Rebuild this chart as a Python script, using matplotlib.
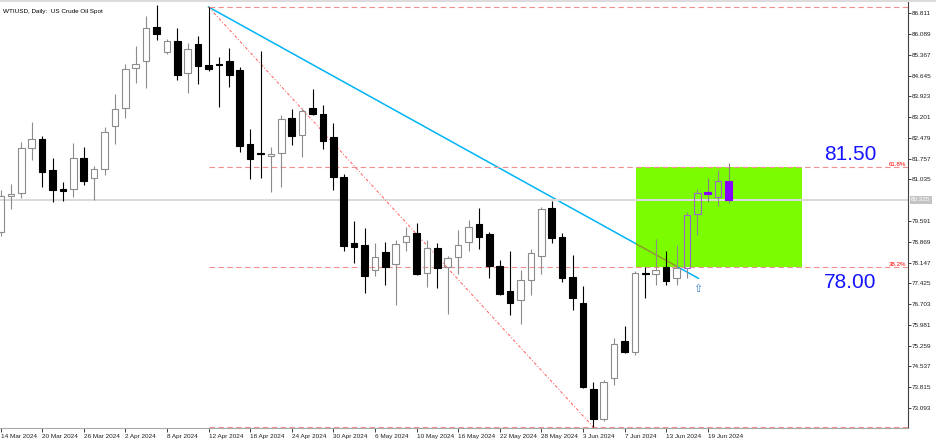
import matplotlib
matplotlib.use('Agg')
import matplotlib.pyplot as plt
import matplotlib.patches as mpatches

plt.rcParams['font.family'] = ['Liberation Sans', 'DejaVu Sans']

# Daily OHLC, one bar per trading day from 14 Mar 2024
opens = [79.21, 80.46, 80.56, 82.13, 82.44, 81.36, 80.70, 80.70, 81.78, 81.09,
         81.40, 82.89, 83.52, 84.91, 85.15, 86.33, 85.47, 85.85, 84.74, 85.74,
         85.01, 85.05, 85.15, 84.84, 82.27, 81.95, 81.85, 81.95, 83.17, 82.58,
         83.52, 83.31, 82.51, 81.12, 78.82, 78.76, 77.89, 78.51, 78.10, 78.86,
         79.17, 77.78, 78.65, 77.99, 78.34, 78.86, 79.49, 79.14, 78.03, 77.16,
         76.85, 77.54, 78.37, 80.04, 79.03, 77.64, 76.74, 73.75, 72.71, 74.13,
         75.42, 75.04, 77.78, 77.75, 77.99, 77.61, 77.96, 79.83, 80.60, 80.43,
         80.98]
highs = [80.67, 80.88, 82.34, 83.03, 82.55, 81.78, 80.95, 82.30, 82.16, 81.50,
         82.86, 84.01, 85.05, 85.67, 86.72, 87.10, 85.92, 86.30, 85.78, 86.02,
         87.03, 85.29, 85.60, 84.94, 82.79, 85.50, 82.16, 83.28, 83.48, 83.52,
         84.18, 83.62, 83.00, 81.22, 79.59, 79.35, 78.82, 78.86, 78.93, 79.38,
         79.52, 78.93, 78.82, 78.37, 79.28, 79.62, 80.04, 79.21, 78.24, 78.55,
         77.89, 78.62, 80.08, 80.29, 79.17, 78.41, 77.33, 73.99, 74.06, 75.52,
         75.94, 77.85, 77.99, 78.97, 78.55, 78.76, 79.90, 80.70, 81.09, 81.36,
         81.61]
lows = [79.07, 80.01, 80.39, 81.71, 80.77, 80.25, 80.29, 80.43, 80.84, 80.32,
        81.19, 82.27, 83.17, 84.39, 84.21, 85.88, 85.40, 84.49, 84.04, 84.35,
        84.81, 83.55, 84.25, 81.99, 81.05, 81.09, 80.60, 80.77, 82.23, 81.82,
        83.28, 82.09, 80.67, 78.55, 78.13, 77.09, 77.68, 77.37, 76.67, 78.55,
        77.71, 77.30, 77.26, 76.36, 77.75, 78.55, 78.62, 77.61, 77.02, 76.32,
        76.01, 77.02, 77.75, 78.82, 77.47, 76.50, 73.79, 72.43, 72.64, 73.89,
        75.00, 74.93, 76.91, 77.37, 77.37, 77.37, 77.61, 79.10, 80.25, 80.11,
        80.22]
closes = [80.46, 80.53, 82.13, 82.44, 81.30, 80.67, 80.63, 81.78, 80.98, 81.40,
          82.69, 83.48, 84.87, 85.05, 86.30, 86.09, 85.85, 84.67, 85.57, 84.98,
          84.87, 85.01, 84.67, 82.20, 81.75, 81.92, 81.92, 83.14, 82.55, 83.41,
          83.31, 82.37, 81.12, 78.72, 78.69, 77.68, 78.34, 77.99, 78.79, 79.07,
          77.75, 78.65, 77.96, 78.30, 78.76, 79.38, 79.04, 78.03, 77.05, 76.74,
          77.54, 78.48, 80.01, 79.00, 77.61, 76.91, 73.82, 72.71, 73.99, 75.32,
          75.04, 77.78, 77.75, 77.89, 77.51, 77.96, 79.80, 80.57, 80.53, 80.98,
          80.32]

date_ticks = [0, 4, 8, 12, 16, 20, 24, 28, 32, 36, 40, 44, 48, 52, 56, 60, 64, 68]
date_labels = ['14 Mar 2024', '20 Mar 2024', '26 Mar 2024', '2 Apr 2024', '8 Apr 2024',
               '12 Apr 2024', '18 Apr 2024', '24 Apr 2024', '30 Apr 2024', '6 May 2024',
               '10 May 2024', '16 May 2024', '22 May 2024', '28 May 2024', '3 Jun 2024',
               '7 Jun 2024', '13 Jun 2024', '19 Jun 2024']
price_ticks = [86.811, 86.089, 85.367, 84.645, 83.923, 83.201, 82.479, 81.757, 81.035,
               79.591, 78.869, 78.147, 77.425, 76.703, 75.981, 75.259, 74.537, 73.815, 73.093]
last_price = 80.325

# drawings on the chart
fib_hi_bar, fib_lo_bar = 20, 57
fib_ratios = [0.0, 0.382, 0.618, 1.0]
trend_end = (67.1, 77.60)
zone_bars = (61.1, 77.1)
targets = ['81.50', '78.00']
highlight_from = 66

fig = plt.figure(figsize=(9.36, 4.4), dpi=100)
ax = fig.add_axes([0, 12 / 440, 908 / 936, 426 / 440])
ax.set_xlim(-0.05, 87.26)
ax.set_ylim(72.397, 87.203)

# candles
for i in range(len(opens)):
    o, c = opens[i], closes[i]
    top, bot = max(o, c), min(o, c)
    hl = i >= highlight_from
    if c >= o:
        face = 'none'
        edge = '#9966cc' if hl else '#8c8c8c'
        wick = '#8c8c8c'
    else:
        face = edge = '#8800ff' if hl else 'black'
        wick = '#808080' if hl else 'black'
    ax.vlines(i, top, highs[i], color=wick, lw=0.8, zorder=3)
    ax.vlines(i, lows[i], bot, color=wick, lw=0.8, zorder=3)
    ax.bar(i, max(top - bot, 0.01), bottom=bot, width=0.62, facecolor=face,
           edgecolor=edge, lw=0.8, zorder=4)

# fibonacci
fib_hi = highs[fib_hi_bar]
fib_lo = lows[fib_lo_bar]
levels = [fib_lo + r * (fib_hi - fib_lo) for r in fib_ratios]
x_right = ax.get_xlim()[1]
for r, lev in zip(fib_ratios, levels):
    ax.hlines(lev, fib_hi_bar, x_right, color='#f29090', lw=0.8, ls=(0, (5, 3)), zorder=2.5)
    if r in (0.382, 0.618):
        ax.annotate('%.1f%%' % (r * 100), xy=(906 / 908, lev), xycoords=('axes fraction', 'data'),
                    ha='right', va='bottom', fontsize=4.4, color='red')
ax.plot([fib_hi_bar, fib_lo_bar], [fib_hi, fib_lo], color='#ff5a5a', lw=0.7,
        ls=(0, (3, 2, 1, 2)), zorder=2.5)

# target zone
zone = mpatches.Rectangle((zone_bars[0], levels[1]), zone_bars[1] - zone_bars[0],
                          levels[2] - levels[1], facecolor='#7cfc00', edgecolor='none', zorder=2)
ax.add_patch(zone)

# trend line (olive where it crosses the zone)
ax.plot([fib_hi_bar, trend_end[0]], [fib_hi, trend_end[1]], color='#00b4f5', lw=1.1, zorder=1.5)
inner, = ax.plot([fib_hi_bar, trend_end[0]], [fib_hi, trend_end[1]], color='#8f9a30', lw=1.1, zorder=2.1)
inner.set_clip_path(zone)

ax.axhline(last_price, color='#dadada', lw=1.5, zorder=2.4)

ax.text(81.7, 81.89, targets[0], fontsize=15, color='#1414ff', ha='center', va='center')
ax.text(81.7, 77.47, targets[1], fontsize=15, color='#1414ff', ha='center', va='center')
ax.text(67.0, 77.23, '\u21e7', fontsize=8, color='#3a7cc4', ha='center', va='center',
        family=['DejaVu Sans'])

# axes
for s in ['top', 'left']:
    ax.spines[s].set_visible(False)
ax.spines['bottom'].set_color('#a8a8a8')
ax.spines['right'].set_color('#404040')
ax.spines['right'].set_linewidth(0.8)
ax.yaxis.tick_right()
ax.set_yticks(price_ticks, labels=['%.3f' % p for p in price_ticks])
ax.tick_params(axis='y', length=2, width=0.6, pad=1, labelsize=4.6, colors='#202020')
ax.set_xticks(date_ticks, labels=date_labels)
ax.tick_params(axis='x', length=3, width=0.6, pad=1, labelsize=4.6, colors='#202020')
for lbl in ax.get_xticklabels():
    lbl.set_horizontalalignment('left')

ax.annotate('%.3f' % last_price, xy=(1, last_price), xycoords=('axes fraction', 'data'),
            xytext=(2, 0), textcoords='offset points', ha='left', va='center',
            fontsize=4.6, color='white',
            bbox=dict(boxstyle='square,pad=0.2', fc='#c4c4c4', ec='none'))

fig.text(3 / 936, 1 - 12 / 440, 'WTIUSD, Daily:  US Crude Oil Spot', fontsize=4.6, va='center')
fig.add_artist(plt.Line2D([0, 1], [1 - 1 / 440, 1 - 1 / 440], color='#dcdcdc', lw=1.5,
                          transform=fig.transFigure))

fig.savefig('out.png', dpi=100)
